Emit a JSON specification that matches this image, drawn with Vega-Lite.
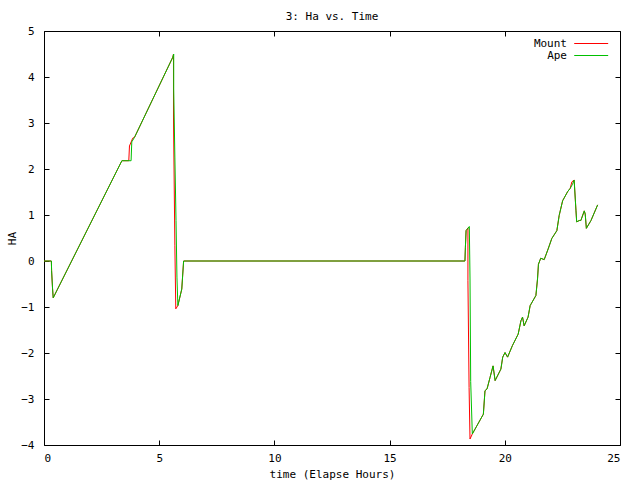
{
  "$schema": "https://vega.github.io/schema/vega-lite/v6.json",
  "width": 576,
  "height": 414,
  "autosize": "none",
  "padding": {"left": 44, "top": 31, "right": 20, "bottom": 35},
  "background": "white",
  "title": {"text": "3: Ha vs. Time", "font": "DejaVu Sans Mono", "fontSize": 11, "fontWeight": "normal", "color": "black", "offset": 3},
  "config": {
    "view": {"stroke": "black", "strokeWidth": 1},
    "font": "DejaVu Sans Mono",
    "axis": {"domain": false, "grid": false, "tickColor": "black", "tickSize": 5, "tickWidth": 1, "labelFont": "DejaVu Sans Mono", "labelFontSize": 11, "labelColor": "black", "titleFont": "DejaVu Sans Mono", "titleFontSize": 11, "titleFontWeight": "normal", "titleColor": "black"},
    "legend": {"labelFont": "DejaVu Sans Mono", "labelFontSize": 11, "labelColor": "black"}
  },
  "data": {"values": [
    {"s":"Mount","i":0,"t":0,"ha":0},{"s":"Mount","i":1,"t":0.32,"ha":0},{"s":"Mount","i":2,"t":0.33,"ha":-0.21},{"s":"Mount","i":3,"t":0.37,"ha":-0.59},{"s":"Mount","i":4,"t":0.4,"ha":-0.8},{"s":"Mount","i":5,"t":3.38,"ha":2.18},{"s":"Mount","i":6,"t":3.68,"ha":2.18},{"s":"Mount","i":7,"t":3.71,"ha":2.5},{"s":"Mount","i":8,"t":3.85,"ha":2.67},{"s":"Mount","i":8.5,"t":3.93,"ha":2.69},{"s":"Mount","i":9,"t":5.59,"ha":4.43},{"s":"Mount","i":10,"t":5.62,"ha":4.5},{"s":"Mount","i":11,"t":5.62,"ha":3.13},{"s":"Mount","i":12,"t":5.68,"ha":0.33},{"s":"Mount","i":13,"t":5.72,"ha":-1.04},{"s":"Mount","i":14,"t":5.81,"ha":-0.97},{"s":"Mount","i":15,"t":5.98,"ha":-0.61},{"s":"Mount","i":16,"t":6.06,"ha":0},{"s":"Mount","i":17,"t":18.27,"ha":0},{"s":"Mount","i":18,"t":18.29,"ha":0.3},{"s":"Mount","i":19,"t":18.32,"ha":0.66},{"s":"Mount","i":20,"t":18.4,"ha":0.72},{"s":"Mount","i":21,"t":18.4,"ha":-0.43},{"s":"Mount","i":22,"t":18.45,"ha":-2.75},{"s":"Mount","i":23,"t":18.49,"ha":-3.87},{"s":"Mount","i":24,"t":18.59,"ha":-3.76},{"s":"Mount","i":25,"t":19.07,"ha":-3.33},{"s":"Mount","i":26,"t":19.14,"ha":-2.82},{"s":"Mount","i":27,"t":19.23,"ha":-2.78},{"s":"Mount","i":28,"t":19.36,"ha":-2.53},{"s":"Mount","i":29,"t":19.49,"ha":-2.28},{"s":"Mount","i":30,"t":19.58,"ha":-2.6},{"s":"Mount","i":31,"t":19.83,"ha":-2.35},{"s":"Mount","i":32,"t":19.91,"ha":-2.09},{"s":"Mount","i":33,"t":20.01,"ha":-1.99},{"s":"Mount","i":34,"t":20.12,"ha":-2.09},{"s":"Mount","i":35,"t":20.33,"ha":-1.84},{"s":"Mount","i":36,"t":20.58,"ha":-1.59},{"s":"Mount","i":37,"t":20.7,"ha":-1.3},{"s":"Mount","i":38,"t":20.77,"ha":-1.22},{"s":"Mount","i":39,"t":20.84,"ha":-1.41},{"s":"Mount","i":40,"t":21.01,"ha":-1.22},{"s":"Mount","i":41,"t":21.1,"ha":-0.97},{"s":"Mount","i":42,"t":21.35,"ha":-0.75},{"s":"Mount","i":43,"t":21.42,"ha":-0.39},{"s":"Mount","i":44,"t":21.46,"ha":-0.07},{"s":"Mount","i":45,"t":21.56,"ha":0.06},{"s":"Mount","i":46,"t":21.71,"ha":0.03},{"s":"Mount","i":47,"t":21.88,"ha":0.26},{"s":"Mount","i":48,"t":22.04,"ha":0.49},{"s":"Mount","i":49,"t":22.26,"ha":0.66},{"s":"Mount","i":50,"t":22.36,"ha":0.99},{"s":"Mount","i":51,"t":22.51,"ha":1.31},{"s":"Mount","i":52,"t":22.73,"ha":1.51},{"s":"Mount","i":53,"t":22.84,"ha":1.58},{"s":"Mount","i":54,"t":22.91,"ha":1.72},{"s":"Mount","i":55,"t":23.01,"ha":1.76},{"s":"Mount","i":56,"t":23.09,"ha":1.09},{"s":"Mount","i":57,"t":23.12,"ha":0.85},{"s":"Mount","i":58,"t":23.23,"ha":0.88},{"s":"Mount","i":59,"t":23.3,"ha":0.88},{"s":"Mount","i":60,"t":23.45,"ha":1.09},{"s":"Mount","i":61,"t":23.49,"ha":1.02},{"s":"Mount","i":62,"t":23.54,"ha":0.71},{"s":"Mount","i":63,"t":23.74,"ha":0.88},{"s":"Mount","i":64,"t":24.03,"ha":1.22},
    {"s":"Ape","i":0,"t":0,"ha":0},{"s":"Ape","i":1,"t":0.32,"ha":0},{"s":"Ape","i":2,"t":0.33,"ha":-0.21},{"s":"Ape","i":3,"t":0.37,"ha":-0.59},{"s":"Ape","i":4,"t":0.4,"ha":-0.8},{"s":"Ape","i":5,"t":3.38,"ha":2.18},{"s":"Ape","i":6,"t":3.78,"ha":2.18},{"s":"Ape","i":7,"t":3.81,"ha":2.59},{"s":"Ape","i":8,"t":3.93,"ha":2.69},{"s":"Ape","i":9,"t":5.59,"ha":4.43},{"s":"Ape","i":10,"t":5.63,"ha":4.5},{"s":"Ape","i":11,"t":5.63,"ha":3.74},{"s":"Ape","i":12,"t":5.68,"ha":2.26},{"s":"Ape","i":13,"t":5.73,"ha":0.88},{"s":"Ape","i":14,"t":5.77,"ha":-0.35},{"s":"Ape","i":15,"t":5.81,"ha":-0.97},{"s":"Ape","i":16,"t":5.98,"ha":-0.61},{"s":"Ape","i":17,"t":6.06,"ha":0},{"s":"Ape","i":18,"t":18.27,"ha":0},{"s":"Ape","i":19,"t":18.29,"ha":0.3},{"s":"Ape","i":20,"t":18.32,"ha":0.66},{"s":"Ape","i":21,"t":18.46,"ha":0.75},{"s":"Ape","i":22,"t":18.49,"ha":-0.37},{"s":"Ape","i":23,"t":18.52,"ha":-2.62},{"s":"Ape","i":24,"t":18.59,"ha":-3.76},{"s":"Ape","i":25,"t":19.07,"ha":-3.33},{"s":"Ape","i":26,"t":19.14,"ha":-2.82},{"s":"Ape","i":27,"t":19.23,"ha":-2.78},{"s":"Ape","i":28,"t":19.36,"ha":-2.53},{"s":"Ape","i":29,"t":19.49,"ha":-2.28},{"s":"Ape","i":30,"t":19.58,"ha":-2.6},{"s":"Ape","i":31,"t":19.83,"ha":-2.35},{"s":"Ape","i":32,"t":19.91,"ha":-2.09},{"s":"Ape","i":33,"t":20.01,"ha":-1.99},{"s":"Ape","i":34,"t":20.12,"ha":-2.09},{"s":"Ape","i":35,"t":20.33,"ha":-1.84},{"s":"Ape","i":36,"t":20.58,"ha":-1.59},{"s":"Ape","i":37,"t":20.7,"ha":-1.3},{"s":"Ape","i":38,"t":20.77,"ha":-1.22},{"s":"Ape","i":39,"t":20.84,"ha":-1.41},{"s":"Ape","i":40,"t":21.01,"ha":-1.22},{"s":"Ape","i":41,"t":21.1,"ha":-0.97},{"s":"Ape","i":42,"t":21.35,"ha":-0.75},{"s":"Ape","i":43,"t":21.42,"ha":-0.39},{"s":"Ape","i":44,"t":21.46,"ha":-0.07},{"s":"Ape","i":45,"t":21.56,"ha":0.06},{"s":"Ape","i":46,"t":21.71,"ha":0.03},{"s":"Ape","i":47,"t":21.88,"ha":0.26},{"s":"Ape","i":48,"t":22.04,"ha":0.49},{"s":"Ape","i":49,"t":22.26,"ha":0.66},{"s":"Ape","i":50,"t":22.36,"ha":0.99},{"s":"Ape","i":51,"t":22.51,"ha":1.31},{"s":"Ape","i":52,"t":22.73,"ha":1.51},{"s":"Ape","i":53,"t":22.84,"ha":1.58},{"s":"Ape","i":54,"t":22.94,"ha":1.67},{"s":"Ape","i":55,"t":23.01,"ha":1.76},{"s":"Ape","i":56,"t":23.09,"ha":1.09},{"s":"Ape","i":57,"t":23.12,"ha":0.85},{"s":"Ape","i":58,"t":23.23,"ha":0.88},{"s":"Ape","i":59,"t":23.3,"ha":0.88},{"s":"Ape","i":60,"t":23.45,"ha":1.09},{"s":"Ape","i":61,"t":23.49,"ha":1.02},{"s":"Ape","i":62,"t":23.54,"ha":0.71},{"s":"Ape","i":63,"t":23.74,"ha":0.88},{"s":"Ape","i":64,"t":24.03,"ha":1.22}
  ]},
  "layer": [
    {
      "transform": [{"filter": "datum.s === 'Mount'"}],
      "mark": {"type": "line", "strokeWidth": 1, "interpolate": "linear"},
      "encoding": {
        "x": {"field": "t", "type": "quantitative", "scale": {"domain": [0, 25], "nice": false, "zero": false}, "axis": {"orient": "bottom", "values": [0, 5, 10, 15, 20, 25], "ticks": false, "title": "time (Elapse Hours)", "labelPadding": 7, "titlePadding": 5}},
        "y": {"field": "ha", "type": "quantitative", "scale": {"domain": [-4, 5], "nice": false, "zero": false}, "axis": {"orient": "left", "values": [-4, -3, -2, -1, 0, 1, 2, 3, 4, 5], "ticks": false, "title": "HA", "labelPadding": 10, "titlePadding": 3}},
        "order": {"field": "i", "type": "quantitative"},
        "color": {"field": "s", "type": "nominal", "scale": {"domain": ["Mount", "Ape"], "range": ["#ff0000", "#00c000"]},
          "legend": {"title": null, "orient": "none", "legendX": 552, "legendY": 6, "symbolType": "M-5,0H1", "symbolSize": 128, "symbolStrokeWidth": 1.2, "labelAlign": "right", "labelOffset": -42, "rowPadding": 0, "padding": 0}}
      }
    },
    {
      "transform": [{"filter": "datum.s === 'Ape'"}],
      "mark": {"type": "line", "strokeWidth": 1, "interpolate": "linear"},
      "encoding": {
        "x": {"field": "t", "type": "quantitative", "axis": {"orient": "bottom", "values": [0, 5, 10, 15, 20, 25], "labels": false, "title": null, "offset": -5}},
        "y": {"field": "ha", "type": "quantitative", "axis": {"orient": "left", "values": [-4, -3, -2, -1, 0, 1, 2, 3, 4, 5], "labels": false, "title": null, "offset": -5}},
        "order": {"field": "i", "type": "quantitative"},
        "color": {"field": "s", "type": "nominal"}
      }
    },
    {
      "transform": [{"filter": "datum.s === 'Ape'"}],
      "mark": {"type": "line", "strokeOpacity": 0},
      "encoding": {
        "x": {"field": "t", "type": "quantitative", "axis": {"orient": "top", "values": [0, 5, 10, 15, 20, 25], "labels": false, "title": null, "offset": -5}},
        "y": {"field": "ha", "type": "quantitative", "axis": {"orient": "right", "values": [-4, -3, -2, -1, 0, 1, 2, 3, 4, 5], "labels": false, "title": null, "offset": -5}},
        "order": {"field": "i", "type": "quantitative"}
      }
    }
  ],
  "resolve": {"axis": {"x": "independent", "y": "independent"}}
}
